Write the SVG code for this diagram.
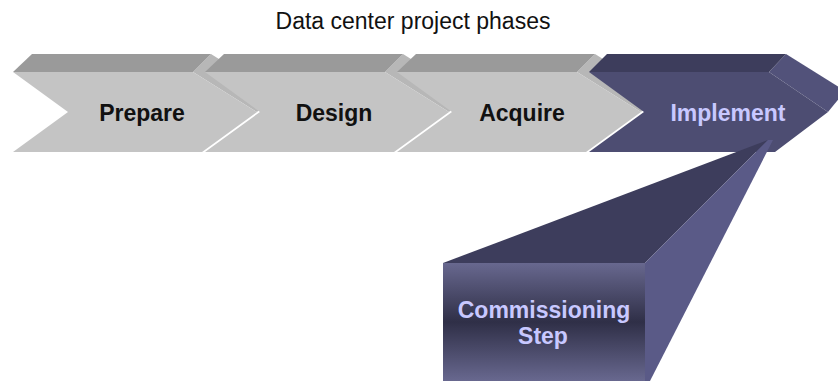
<svg xmlns="http://www.w3.org/2000/svg" width="838" height="381" viewBox="0 0 838 381">
<defs>
<style>
.lbl{font-family:"Liberation Sans",Arial,sans-serif;font-weight:bold;font-size:23px;text-anchor:middle}
.title{font-family:"Liberation Sans",Arial,sans-serif;font-size:23px;text-anchor:middle;fill:#111}
.gtop{fill:#9a9a9a}.gside{fill:#b7b7b7}.gfront{fill:#c4c4c4}
.ptop{fill:#3d3d5c}.pside{fill:#52527a}.pfront{fill:#4d4d72}
.dark{fill:#111}.lav{fill:#c8c8ff}
</style>
<linearGradient id="boxg" x1="0" y1="0" x2="0" y2="1">
<stop offset="0" stop-color="#68688f"/>
<stop offset="0.5" stop-color="#2f2f47"/>
<stop offset="1" stop-color="#68688f"/>
</linearGradient>
</defs>
<rect width="838" height="381" fill="#fff"/>
<text class="title" x="413" y="29">Data center project phases</text>
<g id="prepare">
<polygon class="gside" points="193,72 211,54 275,94 257,112"/>
<polygon class="gtop" points="32,54 211,54 193,72 13,72"/>
<polygon class="gfront" points="13,72 193,72 257,112 202,152 13,152 68,112"/>
<text class="lbl dark" x="142" y="121">Prepare</text>
</g>
<g id="design">
<polygon class="gside" points="385,72 403,54 467,94 449,112"/>
<polygon class="gtop" points="224,54 403,54 385,72 205,72"/>
<polygon class="gfront" points="205,72 385,72 449,112 394,152 205,152 260,112"/>
<text class="lbl dark" x="334" y="121">Design</text>
</g>
<g id="acquire">
<polygon class="gside" points="577,72 595,54 659,94 641,112"/>
<polygon class="gtop" points="416,54 595,54 577,72 397,72"/>
<polygon class="gfront" points="397,72 577,72 641,112 586,152 397,152 452,112"/>
<text class="lbl dark" x="522" y="121">Acquire</text>
</g>
<g id="implement">
<polygon class="pside" points="769,72 786,54 845,91 828,112"/>
<polygon class="ptop" points="607,54 786,54 769,72 589,72"/>
<polygon class="pfront" points="589,72 769,72 828,112 775,152 589,152 644,112"/>
<text class="lbl lav" x="728" y="121">Implement</text>
</g>
<g id="commissioning">
<polygon class="ptop" points="443,263 645,263 768,140"/>
<polygon fill="#5a5a87" points="645,263 768,140 773,140 650,381 645,381"/>
<rect x="443" y="263" width="202" height="118" fill="url(#boxg)"/>
<text class="lbl lav" x="544" y="318">Commissioning</text>
<text class="lbl lav" x="543" y="344">Step</text>
</g>
<g id="connectors"/>
</svg>
